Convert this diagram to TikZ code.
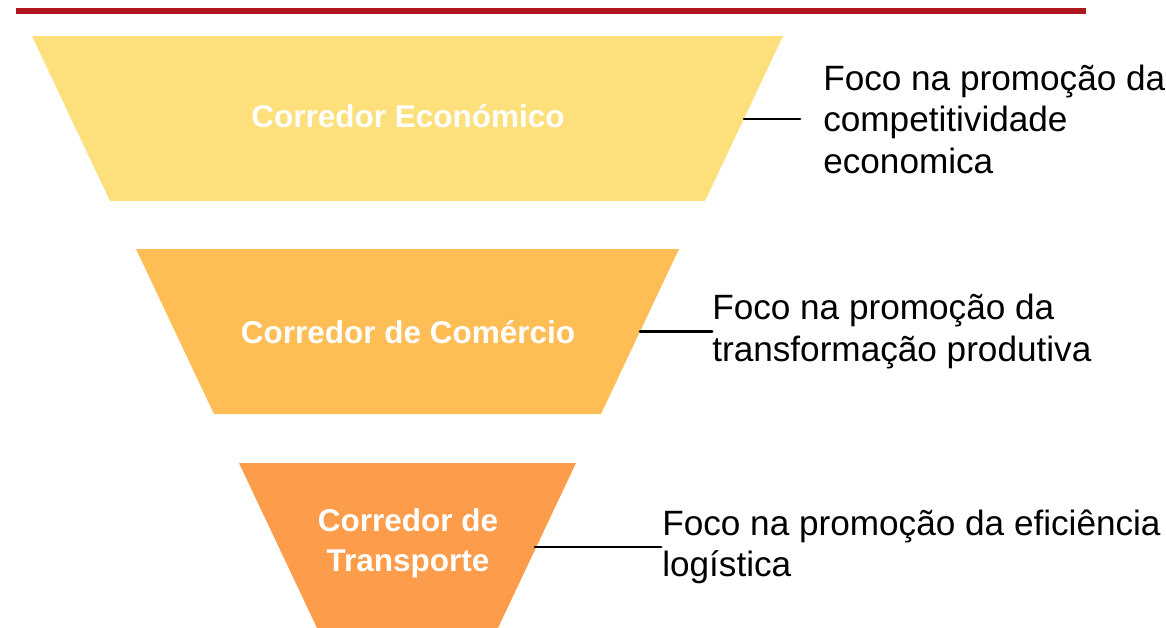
\documentclass[tikz,border=0pt]{standalone}
\usepackage{fontspec}
\setmainfont{Liberation Sans}
\usetikzlibrary{positioning}

\definecolor{barred}{RGB}{176,22,32}
\definecolor{econfill}{RGB}{253,223,123}
\definecolor{comfill}{RGB}{255,190,85}
\definecolor{trnfill}{RGB}{253,156,74}

\begin{document}
\begin{tikzpicture}[
      x=0.025cm, y=-0.025cm,
      level/.style={inner sep=0pt, text=white, align=center,
        font=\bfseries\fontsize{22.4}{28.5}\selectfont},
      note/.style={inner sep=0pt, anchor=west, align=left,
        font=\fontsize{25}{29.5}\selectfont},
      link/.style={line width=2.1pt, line cap=round}]
    \useasboundingbox (0,0) rectangle (1166,627);
    \draw[barred, line width=0.15cm] (16,11) -- (1086,11);
    % funnel levels
    \fill[econfill] (32,36) -- (783,36) -- (705,201) -- (110,201) -- cycle;
    \fill[comfill] (136,249) -- (679,249) -- (601,414) -- (214,414) -- cycle;
    \fill[trnfill] (239,463) -- (576,463) -- (498,628) -- (317,628) -- cycle;
    \node[level] (econ) at (408,116) {Corredor Económico};
    \node[level] (com) at (408,332) {Corredor de Comércio};
    \node[level] (trn) at (408,543) {Corredor de\\Transporte};
    % connectors and notes
    \coordinate (econ-edge) at (744,119);
    \coordinate (com-edge) at (640,331.5);
    \coordinate (trn-edge) at (535,547);
    \coordinate[right=1.4cm of econ-edge] (econ-end);
    \coordinate[right=1.8cm of com-edge] (com-end);
    \coordinate[right=3.15cm of trn-edge] (trn-end);
    \draw[link] (econ-edge) -- (econ-end);
    \draw[link] (com-edge) -- (com-end);
    \draw[link] (trn-edge) -- (trn-end);
    \node[note, right=0.575cm of econ-end] (econ-note) {Foco na promoção da\\competitividade\\economica};
    \node[note, right=0cm of com-end] (com-note) {Foco na promoção da\\transformação produtiva};
    \node[note, right=0.025cm of trn-end] (trn-note) {Foco na promoção da eficiência\\logística};
    \end{tikzpicture}
\end{document}
